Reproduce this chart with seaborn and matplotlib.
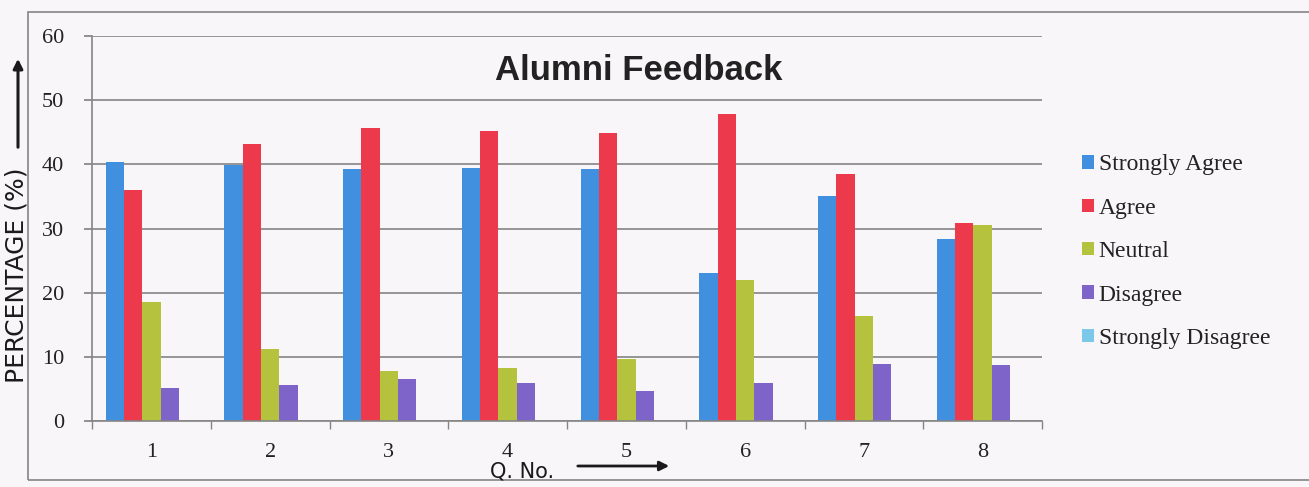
import matplotlib
matplotlib.use("Agg")
import matplotlib.pyplot as plt
import seaborn as sns
import pandas as pd
from matplotlib.patches import Rectangle, FancyArrowPatch

questions = ["1", "2", "3", "4", "5", "6", "7", "8"]
series = ["Strongly Agree", "Agree", "Neutral", "Disagree", "Strongly Disagree"]
strongly_agree = [40.3, 39.9, 39.2, 39.4, 39.3, 23.0, 35.0, 28.4]
agree = [36.0, 43.1, 45.7, 45.2, 44.9, 47.8, 38.5, 30.8]
neutral = [18.6, 11.2, 7.8, 8.3, 9.7, 21.9, 16.4, 30.6]
disagree = [5.2, 5.6, 6.6, 6.0, 4.7, 5.9, 8.9, 8.8]
strongly_disagree = [0, 0, 0, 0, 0, 0, 0, 0]
yticks = [0, 10, 20, 30, 40, 50, 60]

colors = ["#4190e0", "#ec3a4c", "#b4c23e", "#7e64c8", "#7cc8e8"]

values = [strongly_agree, agree, neutral, disagree, strongly_disagree]
rows = []
for s, vals in zip(series, values):
    for q, v in zip(questions, vals):
        rows.append({"Q": q, "Response": s, "Value": v})
df = pd.DataFrame(rows)

sns.set_theme(style="white")
plt.rcParams["font.family"] = ["DejaVu Sans"]

bg = "#f9f6f9"
fig = plt.figure(figsize=(13.09, 4.87), dpi=100, facecolor=bg)
ax = fig.add_axes([92 / 1309, 66 / 487, (1042 - 92) / 1309, (421 - 36) / 487])
ax.set_facecolor(bg)

sns.barplot(data=df, x="Q", y="Value", hue="Response", hue_order=series,
            order=questions, palette=colors, width=0.77, saturation=1,
            linewidth=0, edgecolor="none", ax=ax, legend=True)

ax.set_ylim(0, 60)
ax.set_yticks(yticks)
ax.set_xlim(-0.5, len(questions) - 0.5)
ax.yaxis.grid(True, color="#858585", linewidth=1.2)
ax.set_axisbelow(True)
for s in ["top", "right"]:
    ax.spines[s].set_visible(False)
for s in ["left", "bottom"]:
    ax.spines[s].set_color("#858585")
    ax.spines[s].set_linewidth(1.2)

serif = "Liberation Serif"
ax.set_yticklabels([str(t) for t in yticks], fontfamily=serif, fontsize=16, color="#222222")
ax.set_xticklabels(questions, fontfamily=serif, fontsize=16, color="#222222")
ax.tick_params(axis="y", which="major", left=True, length=6, color="#858585", pad=14)
ax.tick_params(axis="x", which="major", bottom=False, pad=10)
ax.set_xticks([i + 0.5 for i in range(-1, len(questions))], minor=True)
ax.tick_params(axis="x", which="minor", bottom=True, length=6, color="#858585")
ax.set_xlabel("")
ax.set_ylabel("")

ax.text(0.575, 0.91, "Alumni Feedback", transform=ax.transAxes, ha="center", va="center",
        fontsize=25, fontweight="bold", fontfamily="Liberation Sans", color="#222222")

handles, labels = ax.get_legend_handles_labels()
ax.legend(handles, labels, loc="center left", bbox_to_anchor=(1.02, 0.44), frameon=False,
          prop={"family": serif, "size": 17}, handlelength=0.5, handleheight=0.5,
          handletextpad=0.2, labelspacing=0.95, labelcolor="#222222")

# hand-written style axis labels
fig.text(17 / 1309, 1 - 275 / 487, "PERCENTAGE (%)", rotation=90, ha="center", va="center",
         fontsize=18, color="#1a1a1a", fontfamily="DejaVu Sans")
fig.patches.append(FancyArrowPatch(
    (18 / 1309, 1 - 150 / 487), (18 / 1309, 1 - 56 / 487), transform=fig.transFigure,
    arrowstyle="-|>", mutation_scale=14, lw=2.2, color="#1a1a1a"))
fig.text(522 / 1309, 1 - 471 / 487, "Q. No.", ha="center", va="center",
         fontsize=15, color="#1a1a1a", fontfamily="DejaVu Sans")
fig.patches.append(FancyArrowPatch(
    (575 / 1309, 1 - 466 / 487), (672 / 1309, 1 - 466 / 487), transform=fig.transFigure,
    arrowstyle="-|>", mutation_scale=14, lw=2.0, color="#1a1a1a"))

# outer chart border
fig.patches.append(Rectangle((28 / 1309, 1 - 480 / 487), 1.0, (480 - 12) / 487,
                             transform=fig.transFigure, fill=False, edgecolor="#858585", lw=1.2))

fig.savefig("out.png", dpi=100, facecolor=bg)
